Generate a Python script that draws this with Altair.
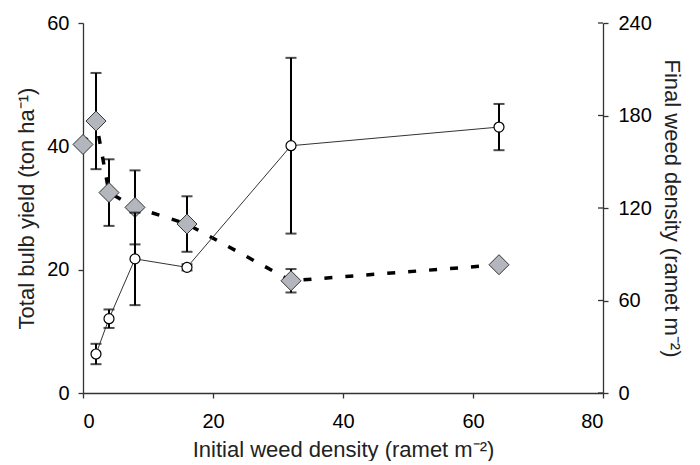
import altair as alt
import pandas as pd

# Initial weed density (ramet m-2)
x_yield = [0, 2, 4, 8, 16, 32, 64]
# Total bulb yield (ton ha-1), left axis
yield_mean = [40.3, 44.1, 32.5, 30.1, 27.4, 18.2, 20.8]
yield_err = [0.0, 7.8, 5.4, 6.0, 4.5, 1.9, 0.0]

x_weed = [2, 4, 8, 16, 32, 64]
# Final weed density (ramet m-2), right axis
weed_mean = [25.3, 48.2, 87.0, 81.5, 160.4, 172.5]
weed_err = [6.6, 6.0, 30.0, 2.0, 57.0, 15.0]

right_ticks = [0, 60, 120, 180, 240]

dy = pd.DataFrame({"x": x_yield, "y": yield_mean, "e": yield_err})
dy["lo"] = dy["y"] - dy["e"]
dy["hi"] = dy["y"] + dy["e"]
dy_err = dy[dy["e"] > 0]

dw = pd.DataFrame({"x": x_weed, "y": weed_mean, "e": weed_err})
dw["lo"] = dw["y"] - dw["e"]
dw["hi"] = dw["y"] + dw["e"]

dt = pd.DataFrame({"t": right_ticks})

FONT = "Liberation Sans"
LBL = 20
TTL = 22

xscale = alt.Scale(domain=[0, 80], nice=False, zero=False)
xaxis = alt.Axis(values=[0, 20, 40, 60, 80], title="Initial weed density (ramet m⁻²)",
                 grid=False, tickSize=5, labelPadding=13, titlePadding=8,
                 domainColor="#333333", tickColor="#333333")
lscale = alt.Scale(domain=[0, 60], nice=False)
rscale = alt.Scale(domain=[0, 240], nice=False)
laxis = alt.Axis(values=[0, 20, 40, 60], title="Total bulb yield (ton ha⁻¹)", grid=False,
                 tickSize=5, labelPadding=9, titlePadding=8,
                 domainColor="#333333", tickColor="#333333")
raxis = alt.Axis(values=right_ticks, title="Final weed density (ramet m⁻²)",
                 orient="right", grid=False, tickSize=5, labelPadding=10, titlePadding=8,
                 domainColor="#333333", tickColor="#333333")


def X():
    return alt.X("x:Q", scale=xscale, axis=xaxis)


def YL(f):
    return alt.Y(f, scale=lscale, axis=laxis)


def YR(f):
    return alt.Y(f, scale=rscale, axis=raxis)


# weed density (right axis)
wbase = alt.Chart(dw)
w_rule = wbase.mark_rule(color="black", strokeWidth=2).encode(x=X(), y=YR("lo:Q"), y2="hi:Q")
w_cap_hi = wbase.mark_tick(orient="horizontal", color="black", size=11, thickness=2).encode(
    x=X(), y=YR("hi:Q"))
w_cap_lo = wbase.mark_tick(orient="horizontal", color="black", size=11, thickness=2).encode(
    x=X(), y=YR("lo:Q"))
w_line = wbase.mark_line(color="#333333", strokeWidth=1).encode(x=X(), y=YR("y:Q"))
w_pts = wbase.mark_point(shape="circle", size=100, filled=False, color="black",
                         fill="white", fillOpacity=1, strokeWidth=1.2, opacity=1).encode(
    x=X(), y=YR("y:Q"))
# inner half of the right-axis ticks (they cross the axis line)
r_inner = alt.Chart(dt).mark_rule(color="#333333", strokeWidth=1.3).encode(
    x=alt.value(515), x2=alt.value(520), y=YR("t:Q"))
weed = alt.layer(w_rule, w_cap_hi, w_cap_lo, w_line, w_pts, r_inner)

# bulb yield (left axis)
ybase = alt.Chart(dy)
ebase = alt.Chart(dy_err)
y_line = ybase.mark_line(color="black", strokeWidth=3.5, strokeDash=[8, 13]).encode(
    x=X(), y=YL("y:Q"))
y_rule = ebase.mark_rule(color="black", strokeWidth=2).encode(x=X(), y=YL("lo:Q"), y2="hi:Q")
y_cap_hi = ebase.mark_tick(orient="horizontal", color="black", size=11, thickness=2).encode(
    x=X(), y=YL("hi:Q"))
y_cap_lo = ebase.mark_tick(orient="horizontal", color="black", size=11, thickness=2).encode(
    x=X(), y=YL("lo:Q"))
y_pts = ybase.mark_point(shape="diamond", size=400, filled=True, fill="#B4B6BE",
                         stroke="#333333", strokeWidth=1, opacity=1).encode(
    x=X(), y=YL("y:Q"))
yld = alt.layer(y_line, y_rule, y_cap_hi, y_cap_lo, y_pts)

chart = alt.layer(yld, weed).resolve_scale(y="independent").properties(
    width=520, height=370,
    autosize=alt.AutoSizeParams(type="none"),
    padding={"left": 75, "top": 15, "right": 85, "bottom": 68},
).configure_view(stroke=None).configure_axis(
    labelFont=FONT, titleFont=FONT, labelFontSize=LBL, titleFontSize=TTL,
    labelColor="black", titleColor="#222222", titleFontWeight="normal",
    domainWidth=1.3, tickWidth=1.3,
)

chart.save("out.html", embed_options={"renderer": "svg", "actions": False})
